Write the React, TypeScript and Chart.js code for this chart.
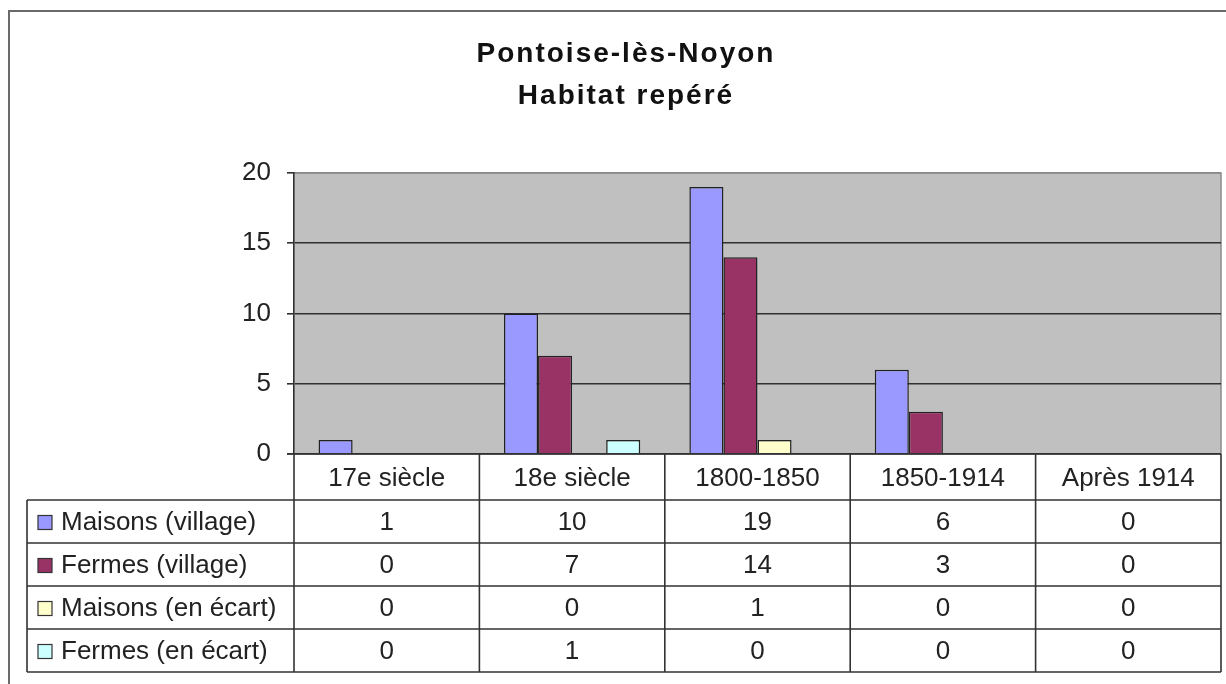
import { useEffect, useRef } from "react";
import { Chart, registerables } from "chart.js";

Chart.register(...registerables);

const titleLines = ["Pontoise-lès-Noyon", "Habitat repéré"];
const categories = ["17e siècle", "18e siècle", "1800-1850", "1850-1914", "Après 1914"];
const seriesNames = ["Maisons (village)", "Fermes (village)", "Maisons (en écart)", "Fermes (en écart)"];
const maisonsVillage = [1, 10, 19, 6, 0];
const fermesVillage = [0, 7, 14, 3, 0];
const maisonsEcart = [0, 0, 1, 0, 0];
const fermesEcart = [0, 1, 0, 0, 0];
const seriesColors = ["#9999FF", "#993366", "#FFFFCC", "#CCFFFF"];
const yTickValues = [0, 5, 10, 15, 20];

const allSeries = [maisonsVillage, fermesVillage, maisonsEcart, fermesEcart];

const FONT = "'Liberation Sans', Arial, sans-serif";
const W = 1226;
const H = 684;

// table geometry (layout, not data)
const TABLE_LEFT = 27;
const HEADER_H = 46;
const ROW_H = 43;

const tablePlugin = {
  id: "excelTable",
  beforeDraw(chart: any) {
    const { ctx, chartArea } = chart;
    ctx.save();
    ctx.fillStyle = "#ffffff";
    ctx.fillRect(0, 0, W, H);
    // outer frame
    ctx.strokeStyle = "#6a6a6a";
    ctx.lineWidth = 2;
    ctx.strokeRect(9, 11, W + 20, H + 20);
    // plot background
    ctx.fillStyle = "#C0C0C0";
    ctx.fillRect(chartArea.left, chartArea.top, chartArea.right - chartArea.left, chartArea.bottom - chartArea.top);
    // plot top/right border
    ctx.strokeStyle = "#8a8a8a";
    ctx.lineWidth = 1.5;
    ctx.beginPath();
    ctx.moveTo(chartArea.left, chartArea.top);
    ctx.lineTo(chartArea.right, chartArea.top);
    ctx.lineTo(chartArea.right, chartArea.bottom);
    ctx.stroke();
    // title
    ctx.fillStyle = "#111";
    ctx.font = `bold 28px ${FONT}`;
    (ctx as any).letterSpacing = "2px";
    ctx.textAlign = "center";
    ctx.textBaseline = "middle";
    const cx = 626;
    ctx.fillText(titleLines[0], cx, 54);
    ctx.fillText(titleLines[1], cx, 96);
    (ctx as any).letterSpacing = "0px";
    ctx.restore();
  },
  afterDraw(chart: any) {
    const { ctx, chartArea, scales } = chart;
    const x = scales.x;
    const n = categories.length;
    const catW = (chartArea.right - chartArea.left) / n;
    const top = chartArea.bottom;
    const headerBottom = top + HEADER_H;
    const rowLines = allSeries.map((_, i) => headerBottom + ROW_H * (i + 1));
    const bottom = rowLines[rowLines.length - 1];
    ctx.save();
    ctx.strokeStyle = "#333";
    ctx.lineWidth = 1.6;
    ctx.beginPath();
    // axis / header top
    ctx.moveTo(chartArea.left - 7, top);
    ctx.lineTo(chartArea.right, top);
    // vertical column lines
    for (let i = 0; i <= n; i++) {
      const cxp = i === n ? chartArea.right : x.getPixelForValue(i) - catW / 2;
      ctx.moveTo(cxp, top);
      ctx.lineTo(cxp, bottom);
    }
    // horizontal rows
    ctx.moveTo(TABLE_LEFT, headerBottom);
    ctx.lineTo(chartArea.right, headerBottom);
    rowLines.forEach((y) => {
      ctx.moveTo(TABLE_LEFT, y);
      ctx.lineTo(chartArea.right, y);
    });
    ctx.moveTo(TABLE_LEFT, headerBottom);
    ctx.lineTo(TABLE_LEFT, bottom);
    ctx.stroke();

    // rows content
    ctx.font = `26px ${FONT}`;
    ctx.textBaseline = "middle";
    allSeries.forEach((vals, r) => {
      const yc = headerBottom + ROW_H * r + ROW_H / 2 + 1;
      // legend key
      ctx.fillStyle = seriesColors[r];
      ctx.fillRect(38, yc - 7, 14, 14);
      ctx.strokeStyle = "#333";
      ctx.lineWidth = 1.2;
      ctx.strokeRect(38, yc - 7, 14, 14);
      ctx.fillStyle = "#222";
      ctx.textAlign = "left";
      ctx.fillText(seriesNames[r], 61, yc);
      ctx.textAlign = "center";
      vals.forEach((v, i) => {
        ctx.fillText(String(v), x.getPixelForValue(i), yc);
      });
    });
    ctx.restore();
  },
};

export default function App() {
  const ref = useRef<HTMLCanvasElement | null>(null);
  useEffect(() => {
    if (!ref.current) return;
    const chart = new Chart(ref.current, {
      type: "bar",
      data: {
        labels: categories,
        datasets: allSeries.map((vals, i) => ({
          label: seriesNames[i],
          data: vals.map((v) => (v === 0 ? null : v)),
          backgroundColor: seriesColors[i],
          borderColor: "#222",
          borderWidth: 1.5,
          borderSkipped: "bottom" as const,
          categoryPercentage: 0.735,
          barPercentage: 1,
        })),
      },
      options: {
        animation: false,
        responsive: false,
        devicePixelRatio: 1,
        layout: { padding: { top: 173, left: 0, right: 5, bottom: 184 } },
        plugins: {
          legend: { display: false },
          title: { display: false },
          tooltip: { enabled: false },
        },
        scales: {
          x: {
            grid: { display: false },
            border: { display: false },
            ticks: {
              font: { family: FONT, size: 26 },
              color: "#222",
              padding: 1,
              maxRotation: 0,
              autoSkip: false,
            },
            afterFit: (s: any) => {
              s.height = HEADER_H;
            },
          },
          y: {
            min: 0,
            max: 20,
            afterBuildTicks: (s: any) => {
              s.ticks = yTickValues.map((v) => ({ value: v }));
            },
            ticks: {
              font: { family: FONT, size: 26 },
              color: "#222",
              padding: 16,
            },
            grid: {
              color: (c: any) => (c.tick && c.tick.value === 20 ? "#8a8a8a" : "#303030"),
              tickColor: "#303030",
              lineWidth: 1.6,
              tickLength: 7,
            },
            border: { display: true, color: "#303030", width: 1.6 },
            afterFit: (s: any) => {
              s.width = 294;
            },
          },
        },
      },
      plugins: [tablePlugin],
    });
    return () => chart.destroy();
  }, []);
  return (
    <div style={{ position: "fixed", left: 0, top: 0, width: W, height: H, background: "#fff" }}>
      <canvas ref={ref} width={W} height={H} style={{ width: W, height: H, display: "block" }} />
    </div>
  );
}
